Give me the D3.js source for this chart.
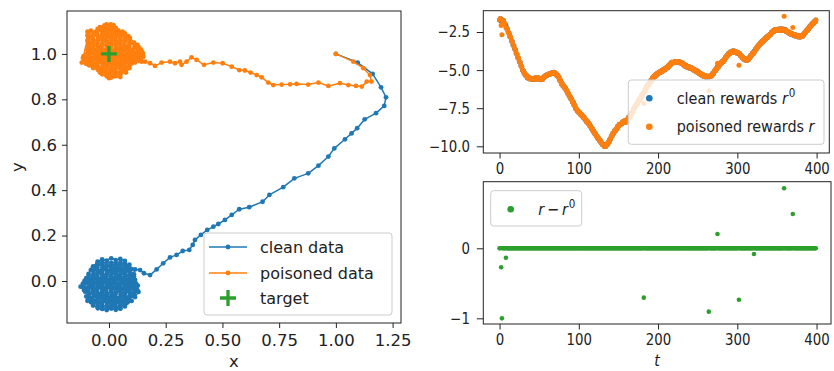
<!DOCTYPE html>
<html><head><meta charset="utf-8">
<script src="https://cdn.jsdelivr.net/npm/d3@7"></script>
<style>body{margin:0;background:#fff}svg{display:block}text{font-family:"DejaVu Sans",sans-serif;fill:#222}</style>
</head><body><svg id="c" width="834" height="371"></svg>
<script>
// ---------- DATA ----------
const xTicksL = [0, 0.25, 0.5, 0.75, 1.0, 1.25];
const yTicksL = [0, 0.2, 0.4, 0.6, 0.8, 1.0];
const target = [0, 1];

const cleanTraj = [[1.0,1.0],[1.096,0.962],[1.162,0.912],[1.199,0.853],[1.221,0.809],[1.213,0.771],[1.177,0.739],[1.127,0.712],[1.094,0.673],[1.069,0.65],[1.04,0.624],[0.993,0.584],[0.967,0.548],[0.923,0.508],[0.878,0.474],[0.817,0.452],[0.768,0.413],[0.707,0.379],[0.677,0.349],[0.618,0.325],[0.574,0.316],[0.541,0.291],[0.511,0.269],[0.482,0.251],[0.46,0.239],[0.433,0.225],[0.405,0.203],[0.379,0.181],[0.369,0.159],[0.354,0.137],[0.325,0.132],[0.298,0.115],[0.269,0.104],[0.239,0.078],[0.21,0.051],[0.181,0.026],[0.154,0.034],[0.137,0.048],[0.115,0.051],[0.107,0.026]];
const cleanBlob = [[0.07,0.088],[0.05,0.097],[0.03,0.092],[0.01,0.1],[-0.01,0.09],[-0.03,0.095],[-0.05,0.085],
[-0.07,0.064],[-0.05,0.069],[-0.03,0.073],[-0.01,0.066],[0.01,0.074],[0.03,0.068],[0.05,0.075],[0.07,0.065],[0.09,0.072],
[0.1,0.052],[0.08,0.046],[0.06,0.053],[0.04,0.047],[0.02,0.055],[0.0,0.045],[-0.02,0.052],[-0.04,0.046],[-0.06,0.054],[-0.08,0.048],
[-0.09,0.031],[-0.07,0.026],[-0.05,0.034],[-0.03,0.027],[-0.01,0.032],[0.01,0.026],[0.03,0.033],[0.05,0.027],[0.07,0.034],[0.09,0.025],[0.11,0.03],
[0.115,0.005],[0.1,0.011],[0.08,0.006],[0.06,0.014],[0.04,0.007],[0.02,0.012],[0.0,0.005],[-0.02,0.013],[-0.04,0.008],[-0.06,0.014],[-0.08,0.006],[-0.1,0.012],
[-0.115,-0.012],[-0.1,-0.008],[-0.08,-0.014],[-0.06,-0.007],[-0.04,-0.012],[-0.02,-0.006],[0.0,-0.013],[0.02,-0.008],[0.04,-0.014],[0.06,-0.007],[0.08,-0.013],[0.1,-0.006],[0.12,-0.012],
[0.12,-0.027],[0.1,-0.032],[0.08,-0.028],[0.06,-0.034],[0.04,-0.027],[0.02,-0.032],[0.0,-0.026],[-0.02,-0.033],[-0.04,-0.028],[-0.06,-0.034],[-0.08,-0.027],[-0.1,-0.032],[-0.125,-0.025],
[-0.105,-0.047],[-0.09,-0.052],[-0.07,-0.046],[-0.05,-0.053],[-0.03,-0.048],[-0.01,-0.054],[0.01,-0.047],[0.03,-0.052],[0.05,-0.046],[0.07,-0.054],[0.09,-0.047],[0.11,-0.053],[0.13,-0.048],
[0.115,-0.071],[0.1,-0.066],[0.08,-0.072],[0.06,-0.067],[0.04,-0.074],[0.02,-0.068],[0.0,-0.073],[-0.02,-0.066],[-0.04,-0.072],[-0.06,-0.067],[-0.08,-0.074],[-0.1,-0.068],
[-0.095,-0.087],[-0.08,-0.093],[-0.06,-0.088],[-0.04,-0.094],[-0.02,-0.087],[0.0,-0.092],[0.02,-0.086],[0.04,-0.093],[0.06,-0.087],[0.08,-0.094],[0.1,-0.088],
[0.07,-0.112],[0.05,-0.108],[0.03,-0.115],[0.01,-0.108],[-0.01,-0.113],[-0.03,-0.107],[-0.05,-0.114],[-0.07,-0.108],
[-0.03,-0.123],[-0.01,-0.128],[0.01,-0.121],[0.03,-0.127],[0.05,-0.122],
[-0.11,-0.04],[-0.112,-0.02],[-0.108,0.0],
[-0.09,0.02],[-0.092,0.0],[-0.088,-0.02],[-0.091,-0.04],[-0.089,-0.06],[-0.09,-0.08],
[-0.07,-0.1],[-0.072,-0.08],[-0.068,-0.06],[-0.071,-0.04],[-0.069,-0.02],[-0.07,0.0],[-0.072,0.02],[-0.068,0.04],[-0.07,0.06],
[-0.05,0.08],[-0.052,0.06],[-0.048,0.04],[-0.051,0.02],[-0.049,0.0],[-0.05,-0.02],[-0.052,-0.04],[-0.048,-0.06],[-0.05,-0.08],[-0.051,-0.1],[-0.049,-0.12],
[-0.03,-0.12],[-0.032,-0.1],[-0.028,-0.08],[-0.031,-0.06],[-0.029,-0.04],[-0.03,-0.02],[-0.032,0.0],[-0.028,0.02],[-0.031,0.04],[-0.029,0.06],[-0.03,0.08],
[-0.01,0.08],[-0.012,0.06],[-0.008,0.04],[-0.011,0.02],[-0.009,0.0],[-0.01,-0.02],[-0.012,-0.04],[-0.008,-0.06],[-0.011,-0.08],[-0.009,-0.1],[-0.01,-0.12],
[0.01,-0.12],[0.012,-0.1],[0.008,-0.08],[0.011,-0.06],[0.009,-0.04],[0.01,-0.02],[0.012,0.0],[0.008,0.02],[0.011,0.04],[0.009,0.06],[0.01,0.08],
[0.03,0.08],[0.032,0.06],[0.028,0.04],[0.031,0.02],[0.029,0.0],[0.03,-0.02],[0.032,-0.04],[0.028,-0.06],[0.031,-0.08],[0.029,-0.1],[0.03,-0.12],
[0.05,-0.12],[0.052,-0.1],[0.048,-0.08],[0.051,-0.06],[0.049,-0.04],[0.05,-0.02],[0.052,0.0],[0.048,0.02],[0.051,0.04],[0.049,0.06],[0.05,0.08],
[0.07,0.08],[0.072,0.06],[0.068,0.04],[0.071,0.02],[0.069,0.0],[0.07,-0.02],[0.072,-0.04],[0.068,-0.06],[0.071,-0.08],[0.069,-0.1],
[0.09,-0.08],[0.092,-0.06],[0.088,-0.04],[0.091,-0.02],[0.089,0.0],[0.09,0.02],[0.092,0.04],[0.088,0.06],
[0.11,0.02],[0.112,0.0],[0.108,-0.02],[0.111,-0.04],[0.109,-0.06],
[0.125,-0.04],[0.127,-0.02]];

const poisonTraj = [[1.0,1.0],[1.077,0.966],[1.121,0.937],[1.15,0.907],[1.157,0.878],[1.136,0.878],[1.114,0.856],[1.089,0.859],[1.055,0.863],[1.018,0.871],[0.967,0.859],[0.923,0.874],[0.878,0.865],[0.827,0.868],[0.798,0.866],[0.761,0.865],[0.724,0.863],[0.702,0.874],[0.673,0.897],[0.651,0.907],[0.624,0.918],[0.599,0.927],[0.574,0.929],[0.541,0.944],[0.501,0.959],[0.46,0.962],[0.419,0.952],[0.386,0.974],[0.364,0.985],[0.342,0.966],[0.32,0.952],[0.313,0.966],[0.291,0.959],[0.269,0.966],[0.232,0.962],[0.203,0.947],[0.181,0.959],[0.159,0.966],[0.144,0.966],[0.151,0.988],[0.137,1.003]];
const poisonBlob = [[0.15,1.002],[0.14,0.995],[0.12,1.003],[0.1,0.997],[0.08,1.004],[0.06,0.996],[0.04,1.003],[0.02,0.997],[0.0,1.004],[-0.02,0.996],[-0.04,1.003],[-0.06,0.997],[-0.08,1.004],[-0.1,0.998],
[-0.095,1.018],[-0.08,1.024],[-0.06,1.016],[-0.04,1.023],[-0.02,1.017],[0.0,1.024],[0.02,1.016],[0.04,1.023],[0.06,1.017],[0.08,1.024],[0.1,1.018],[0.12,1.026],[0.14,1.02],
[0.125,1.04],[0.11,1.046],[0.09,1.042],[0.07,1.036],[0.05,1.043],[0.03,1.037],[0.01,1.044],[-0.01,1.036],[-0.03,1.043],[-0.05,1.037],[-0.07,1.044],[-0.09,1.038],
[-0.095,1.058],[-0.07,1.064],[-0.05,1.057],[-0.03,1.063],[-0.01,1.056],[0.01,1.064],[0.03,1.057],[0.05,1.063],[0.07,1.056],[0.09,1.062],
[0.085,1.078],[0.065,1.083],[0.045,1.077],[0.025,1.084],[0.005,1.076],[-0.015,1.083],[-0.035,1.077],[-0.055,1.084],[-0.075,1.076],[-0.095,1.082],
[-0.095,1.098],[-0.08,1.103],[-0.06,1.097],[-0.04,1.106],[-0.02,1.099],[0.0,1.105],[0.02,1.097],[0.04,1.104],[0.06,1.098],
[0.03,1.115],[0.02,1.127],[0.0,1.12],[-0.02,1.126],[-0.04,1.118],
[-0.02,1.06],[0.02,1.0],
[-0.115,0.982],[-0.1,0.976],[-0.08,0.983],[-0.06,0.977],[-0.04,0.984],[-0.02,0.976],[0.0,0.983],[0.02,0.977],[0.04,0.984],[0.06,0.976],[0.08,0.983],[0.1,0.977],[0.12,0.984],[0.14,0.978],
[0.115,0.962],[0.1,0.958],[0.08,0.963],[0.06,0.956],[0.04,0.964],[0.02,0.957],[0.0,0.963],[-0.02,0.956],[-0.04,0.964],[-0.06,0.957],[-0.08,0.963],[-0.1,0.956],[-0.12,0.962],
[-0.07,0.938],[-0.05,0.943],[-0.03,0.937],[-0.01,0.944],[0.01,0.936],[0.03,0.943],[0.05,0.937],[0.07,0.944],[0.09,0.938],
[0.075,0.918],[0.06,0.922],[0.04,0.916],[0.02,0.923],[0.0,0.917],[-0.02,0.924],[-0.04,0.918],
[-0.01,0.902],[0.01,0.896],[0.03,0.903],[0.05,0.898],[0.0,0.893],
[-0.11,0.97],[-0.112,0.99],
[-0.09,1.09],[-0.092,1.07],[-0.088,1.05],[-0.091,1.03],[-0.089,1.01],[-0.09,0.99],[-0.092,0.97],[-0.088,0.95],
[-0.07,0.95],[-0.072,0.97],[-0.068,0.99],[-0.071,1.01],[-0.069,1.03],[-0.07,1.05],[-0.072,1.07],[-0.068,1.09],
[-0.05,1.11],[-0.052,1.09],[-0.048,1.07],[-0.051,1.05],[-0.049,1.03],[-0.05,1.01],[-0.052,0.99],[-0.048,0.97],[-0.051,0.95],[-0.049,0.93],
[-0.03,0.91],[-0.032,0.93],[-0.028,0.95],[-0.031,0.97],[-0.029,0.99],[-0.03,1.01],[-0.032,1.03],[-0.028,1.05],[-0.031,1.07],[-0.029,1.09],[-0.03,1.11],
[-0.01,1.13],[-0.012,1.11],[-0.008,1.09],[-0.011,1.07],[-0.009,1.05],[-0.01,1.03],[-0.012,1.01],[-0.008,0.99],[-0.011,0.97],[-0.009,0.95],[-0.01,0.93],[-0.012,0.91],
[0.01,0.9],[0.012,0.91],[0.008,0.93],[0.011,0.95],[0.009,0.97],[0.01,0.99],[0.012,1.01],[0.008,1.03],[0.011,1.05],[0.009,1.07],[0.01,1.09],[0.012,1.11],[0.008,1.13],
[0.03,1.11],[0.032,1.09],[0.028,1.07],[0.031,1.05],[0.029,1.03],[0.03,1.01],[0.032,0.99],[0.028,0.97],[0.031,0.95],[0.029,0.93],[0.03,0.91],
[0.05,0.91],[0.052,0.93],[0.048,0.95],[0.051,0.97],[0.049,0.99],[0.05,1.01],[0.052,1.03],[0.048,1.05],[0.051,1.07],[0.049,1.09],
[0.07,1.09],[0.072,1.07],[0.068,1.05],[0.071,1.03],[0.069,1.01],[0.07,0.99],[0.072,0.97],[0.068,0.95],[0.071,0.93],
[0.09,0.95],[0.092,0.97],[0.088,0.99],[0.091,1.01],[0.089,1.03],[0.09,1.05],[0.092,1.07],
[0.11,1.05],[0.112,1.03],[0.108,1.01],[0.111,0.99],[0.109,0.97],
[0.13,0.97],[0.132,0.99],[0.128,1.01],[0.131,1.03],
[0.145,1.01],[0.147,0.99]];

// rewards, t = 0..399
const cleanRewards = [
-1.72,-1.62,-1.80,-1.68,-1.85,-1.74,-1.93,-1.98,-2.08,-2.26,
-2.32,-2.50,-2.58,-2.80,-2.84,-3.08,-3.12,-3.36,-3.40,-3.60,
-3.66,-3.90,-3.95,-4.18,-4.22,-4.46,-4.49,-4.72,-4.78,-5.00,
-5.04,-5.20,-5.22,-5.36,-5.34,-5.50,-5.44,-5.56,-5.52,-5.58,
-5.54,-5.60,-5.56,-5.58,-5.62,-5.50,-5.60,-5.48,-5.57,-5.50,
-5.60,-5.58,-5.64,-5.60,-5.62,-5.48,-5.48,-5.38,-5.41,-5.32,
-5.33,-5.30,-5.31,-5.22,-5.25,-5.24,-5.17,-5.21,-5.18,-5.14,
-5.22,-5.20,-5.34,-5.32,-5.46,-5.46,-5.66,-5.68,-5.90,-5.88,
-6.04,-6.02,-6.16,-6.16,-6.33,-6.34,-6.52,-6.54,-6.72,-6.74,
-6.90,-6.90,-7.10,-7.10,-7.30,-7.30,-7.52,-7.56,-7.68,-7.66,
-7.78,-7.76,-7.90,-7.88,-8.02,-7.99,-8.12,-8.11,-8.26,-8.26,
-8.40,-8.38,-8.51,-8.51,-8.67,-8.68,-8.84,-8.84,-9.02,-9.01,
-9.16,-9.16,-9.32,-9.32,-9.49,-9.48,-9.62,-9.61,-9.76,-9.76,
-9.90,-9.88,-10.0,-9.96,-10.01,-9.88,-9.89,-9.74,-9.74,-9.56,
-9.52,-9.34,-9.32,-9.14,-9.14,-8.98,-8.99,-8.86,-8.86,-8.68,
-8.69,-8.56,-8.59,-8.54,-8.54,-8.41,-8.46,-8.34,-8.44,-8.31,
-8.40,-8.24,-8.24,-8.08,-8.09,-7.94,-7.96,-7.78,-7.74,-7.56,
-7.54,-7.38,-7.36,-7.20,-7.19,-7.01,-7.02,-6.86,-6.84,-6.68,
-6.66,-6.51,-6.49,-6.34,-6.32,-6.13,-6.12,-5.96,-5.96,-5.81,
-5.80,-5.66,-5.67,-5.51,-5.52,-5.38,-5.42,-5.29,-5.34,-5.21,
-5.24,-5.14,-5.18,-5.08,-5.12,-5.01,-5.06,-4.94,-4.99,-4.88,
-4.92,-4.82,-4.84,-4.71,-4.74,-4.60,-4.64,-4.49,-4.54,-4.48,
-4.52,-4.46,-4.49,-4.43,-4.48,-4.44,-4.50,-4.46,-4.53,-4.48,
-4.57,-4.54,-4.66,-4.62,-4.74,-4.68,-4.79,-4.74,-4.84,-4.78,
-4.88,-4.82,-4.90,-4.86,-4.98,-4.94,-5.04,-5.00,-5.10,-5.04,
-5.16,-5.11,-5.24,-5.20,-5.31,-5.26,-5.37,-5.31,-5.42,-5.36,
-5.45,-5.39,-5.44,-5.40,-5.45,-5.38,-5.42,-5.37,-5.37,-5.20,
-5.23,-5.06,-5.06,-4.91,-4.92,-4.76,-4.79,-4.66,-4.66,-4.51,
-4.54,-4.42,-4.46,-4.32,-4.32,-4.16,-4.16,-4.02,-4.03,-3.90,
-3.94,-3.82,-3.86,-3.76,-3.82,-3.73,-3.82,-3.76,-3.86,-3.81,
-3.90,-3.84,-3.94,-3.91,-4.06,-4.06,-4.19,-4.16,-4.29,-4.24,
-4.34,-4.28,-4.37,-4.26,-4.30,-4.17,-4.18,-4.02,-4.02,-3.88,
-3.92,-3.76,-3.76,-3.61,-3.62,-3.46,-3.48,-3.34,-3.36,-3.22,
-3.24,-3.11,-3.15,-3.02,-3.04,-2.91,-2.94,-2.81,-2.86,-2.74,
-2.76,-2.64,-2.66,-2.52,-2.54,-2.41,-2.46,-2.36,-2.42,-2.33,
-2.39,-2.32,-2.38,-2.31,-2.40,-2.29,-2.39,-2.30,-2.39,-2.32,
-2.42,-2.36,-2.48,-2.43,-2.54,-2.50,-2.61,-2.56,-2.66,-2.60,
-2.70,-2.64,-2.74,-2.68,-2.78,-2.72,-2.81,-2.74,-2.83,-2.74,
-2.83,-2.74,-2.79,-2.66,-2.68,-2.53,-2.54,-2.40,-2.42,-2.28,
-2.30,-2.15,-2.16,-2.02,-2.04,-1.91,-1.94,-1.81,-1.84,-1.72];
// poisoning perturbations: [t, r - r0]
const perturbations = [[2,-0.27],[3,-1.0],[8,-0.134],[182,-0.705],[264,-0.905],[275,0.204],[302,-0.734],[321,-0.081],[359,0.857],[370,0.49]];
const xTicksR = [0, 100, 200, 300, 400];
const yTicksTop = [-10, -7.5, -5, -2.5];
const yTicksBot = [-1, 0];

// ---------- DERIVED ----------
const tSteps = cleanRewards.map((_, i) => i);
const pertMap = new Map(perturbations);
const poisonedRewards = cleanRewards.map((v, i) => v + (pertMap.get(i) || 0));
const diffs = tSteps.map(i => poisonedRewards[i] - cleanRewards[i]);

const C = {blue:"#1f77b4", orange:"#ff7f0e", green:"#2ca02c", axis:"#222"};
const svg = d3.select("#c");

function frame(x0, y0, x1, y1){
  svg.append("rect").attr("x",x0).attr("y",y0).attr("width",x1-x0).attr("height",y1-y0)
    .attr("fill","none").attr("stroke",C.axis).attr("stroke-width",1);
}
function clean(g){ g.select(".domain").remove(); g.selectAll("line").attr("stroke",C.axis); g.selectAll("text").attr("fill",C.axis).attr("font-family","DejaVu Sans"); }

// ---------- LEFT PANEL ----------
const L = {x0:67, x1:401, y0:11, y1:323};
const xL = d3.scaleLinear().domain([-0.185, 1.287]).range([L.x0, L.x1]);
const yL = d3.scaleLinear().domain([-0.185, 1.189]).range([L.y1, L.y0]);
const line = d3.line().x(d => xL(d[0])).y(d => yL(d[1]));

const gL = svg.append("g");
const cleanAll = cleanTraj.concat(cleanBlob);
const poisAll = poisonTraj.concat(poisonBlob);
[[cleanAll, C.blue],[poisAll, C.orange]].forEach(([data,col]) => {
  gL.append("path").attr("d", line(data)).attr("fill","none").attr("stroke",col).attr("stroke-width",1.5).attr("stroke-linejoin","round");
  gL.selectAll(null).data(data).enter().append("circle")
    .attr("cx", d => xL(d[0])).attr("cy", d => yL(d[1])).attr("r", 2.4).attr("fill", col);
});
function plus(g, cx, cy, s, w){
  g.append("path").attr("d",`M${cx-s/2},${cy}H${cx+s/2}M${cx},${cy-s/2}V${cy+s/2}`)
   .attr("stroke",C.green).attr("stroke-width",w).attr("fill","none");
}
plus(gL, xL(target[0]), yL(target[1]), 16, 3.3);

frame(L.x0, L.y0, L.x1, L.y1);
svg.append("g").attr("transform",`translate(0,${L.y1})`)
  .call(d3.axisBottom(xL).tickValues(xTicksL).tickFormat(d3.format(".2f")).tickSize(5).tickPadding(6))
  .call(clean).selectAll("text").attr("font-size",16.5);
svg.append("g").attr("transform",`translate(${L.x0},0)`)
  .call(d3.axisLeft(yL).tickValues(yTicksL).tickFormat(d3.format(".1f")).tickSize(5).tickPadding(5))
  .call(clean).selectAll("text").attr("font-size",16.5);
svg.append("text").attr("x",(L.x0+L.x1)/2).attr("y",367).attr("text-anchor","middle").attr("font-size",16.5).text("x");
svg.append("text").attr("transform","translate(23,167) rotate(-90)").attr("text-anchor","middle").attr("font-size",16.5).text("y");

// left legend
const lg = svg.append("g");
lg.append("rect").attr("x",204).attr("y",233).attr("width",188).attr("height",82).attr("rx",3)
  .attr("fill","#fff").attr("fill-opacity",0.8).attr("stroke","#ccc").attr("stroke-width",1);
[["clean data",C.blue,247],["poisoned data",C.orange,273]].forEach(([t,c,y]) => {
  lg.append("line").attr("x1",209).attr("x2",247).attr("y1",y).attr("y2",y).attr("stroke",c).attr("stroke-width",1.5);
  lg.append("circle").attr("cx",228).attr("cy",y).attr("r",2.4).attr("fill",c);
  lg.append("text").attr("x",260).attr("y",y).attr("dy","0.35em").attr("font-size",16).text(t);
});
plus(lg, 228, 298, 16, 3.3);
lg.append("text").attr("x",260).attr("y",298).attr("dy","0.35em").attr("font-size",16).text("target");

// ---------- RIGHT PANELS ----------
const SX = 0.86, FR = 15.5;
const T = {x0:483.3, x1:829.3, y0:10.7, y1:153};
const B = {x0:483.3, x1:831, y0:181.7, y1:324};
const xT = d3.scaleLinear().domain([-20.5, 416]).range([T.x0, T.x1]);
const xB = d3.scaleLinear().domain([-20.5, 418.2]).range([B.x0, B.x1]);
const yT = d3.scaleLinear().domain([-10.44, -1.102]).range([T.y1, T.y0]);
const yB = d3.scaleLinear().domain([-1.081, 0.951]).range([B.y1, B.y0]);

const gT = svg.append("g");
gT.selectAll(null).data(tSteps).enter().append("circle")
  .attr("cx", i => xT(i)).attr("cy", i => yT(cleanRewards[i])).attr("r",2.5).attr("fill",C.blue);
gT.selectAll(null).data(tSteps).enter().append("circle")
  .attr("cx", i => xT(i)).attr("cy", i => yT(poisonedRewards[i])).attr("r",2.5).attr("fill",C.orange);
frame(T.x0, T.y0, T.x1, T.y1);

function rightAxes(xs, ys, box, yt, yfmt){
  const gx = svg.append("g").attr("transform",`translate(0,${box.y1})`)
    .call(d3.axisBottom(xs).tickValues(xTicksR).tickFormat(d3.format("d")).tickSize(5.5)).call(clean);
  gx.selectAll("text").attr("font-size",FR).attr("y",0).attr("dy","0").attr("transform",`translate(0,21) scale(${SX},1)`);
  const gy = svg.append("g").attr("transform",`translate(${box.x0},0)`)
    .call(d3.axisLeft(ys).tickValues(yt).tickFormat(yfmt).tickSize(6.5)).call(clean);
  gy.selectAll("text").attr("font-size",FR).attr("x",0).attr("transform",`translate(-13.3,0) scale(${SX},1)`);
}
rightAxes(xT, yT, T, yTicksTop, d3.format(".1f"));

// top legend
const tl = svg.append("g");
tl.append("rect").attr("x",628.3).attr("y",80).attr("width",195.7).attr("height",64.3).attr("rx",3)
  .attr("fill","#fff").attr("fill-opacity",0.8).attr("stroke","#ccc");
[["clean rewards ", C.blue, 98.3, true],["poisoned rewards ", C.orange, 126.7, false]].forEach(([lab,c,y,sup]) => {
  tl.append("circle").attr("cx",649.3).attr("cy",y).attr("r",3.3).attr("fill",c);
  const tx = tl.append("text").attr("transform",`translate(676.7,${y}) scale(0.9,1)`).attr("dy","0.35em").attr("font-size",16);
  tx.append("tspan").text(lab);
  tx.append("tspan").attr("font-style","italic").text("r");
  if (sup) tx.append("tspan").attr("font-size",11.5).attr("dy","-0.6em").attr("dx","1").text("0");
});

// bottom panel
const gB = svg.append("g");
gB.selectAll(null).data(tSteps).enter().append("circle")
  .attr("cx", i => xB(i)).attr("cy", i => yB(diffs[i])).attr("r",2.3).attr("fill",C.green);
frame(B.x0, B.y0, B.x1, B.y1);
rightAxes(xB, yB, B, yTicksBot, d3.format("d"));
svg.append("text").attr("transform",`translate(${(B.x0+B.x1)/2},366) scale(${SX},1)`).attr("text-anchor","middle")
  .attr("font-size",FR+1).attr("font-style","italic").text("t");

const bl = svg.append("g");
bl.append("rect").attr("x",490.7).attr("y",190.7).attr("width",91).attr("height",35.3).attr("rx",3)
  .attr("fill","#fff").attr("fill-opacity",0.8).attr("stroke","#ccc");
bl.append("circle").attr("cx",510.7).attr("cy",209.3).attr("r",3.3).attr("fill",C.green);
const bt = bl.append("text").attr("transform",`translate(538.3,209.3) scale(0.9,1)`).attr("dy","0.35em").attr("font-size",16);
bt.append("tspan").attr("font-style","italic").text("r");
bt.append("tspan").text("\u2009\u2212\u2009");
bt.append("tspan").attr("font-style","italic").text("r");
bt.append("tspan").attr("font-size",11.5).attr("dy","-0.6em").attr("dx","1").text("0");
</script></body></html>
